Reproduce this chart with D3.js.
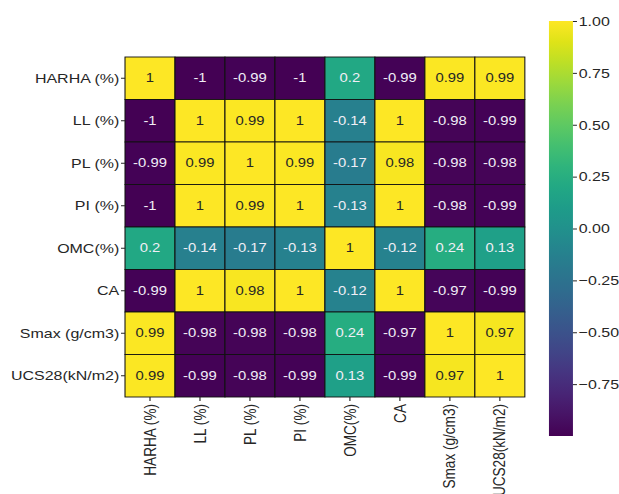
<!DOCTYPE html>
<html>
<head>
<meta charset="utf-8">
<script src="https://cdn.jsdelivr.net/npm/d3@7"></script>
<style>
  html, body { margin: 0; padding: 0; background: #fff; }
  svg { display: block; font-family: "Liberation Sans", Arial, Helvetica, sans-serif; }
</style>
</head>
<body>
<svg id="chart" width="619" height="494"></svg>
<script>
// Variable names (rows and columns share the same order)
const variables = ["HARHA (%)", "LL (%)", "PL (%)", "PI (%)", "OMC(%)", "CA", "Smax (g/cm3)", "UCS28(kN/m2)"];

// Correlation matrix, one array per row
const rowHARHA = [1, -1, -0.99, -1, 0.2, -0.99, 0.99, 0.99];
const rowLL    = [-1, 1, 0.99, 1, -0.14, 1, -0.98, -0.99];
const rowPL    = [-0.99, 0.99, 1, 0.99, -0.17, 0.98, -0.98, -0.98];
const rowPI    = [-1, 1, 0.99, 1, -0.13, 1, -0.98, -0.99];
const rowOMC   = [0.2, -0.14, -0.17, -0.13, 1, -0.12, 0.24, 0.13];
const rowCA    = [-0.99, 1, 0.98, 1, -0.12, 1, -0.97, -0.99];
const rowSmax  = [0.99, -0.98, -0.98, -0.98, 0.24, -0.97, 1, 0.97];
const rowUCS   = [0.99, -0.99, -0.98, -0.99, 0.13, -0.99, 0.97, 1];
const matrix = [rowHARHA, rowLL, rowPL, rowPI, rowOMC, rowCA, rowSmax, rowUCS];

// Colour bar ticks
const colorbarTicks = [1.0, 0.75, 0.5, 0.25, 0.0, -0.25, -0.5, -0.75];

const svg = d3.select("#chart");

// The figure is laid out with square cells and then widened horizontally.
const stretchX = 1.176;
const root = svg.append("g").attr("transform", `scale(${stretchX},1)`);

const textColor = "#262626";
const labelSize = "13.6px";

// Heatmap frame (square cells)
const hm = { left: 106.3, top: 57, size: 340 };
const x = d3.scaleBand().domain(variables).range([hm.left, hm.left + hm.size]);
const y = d3.scaleBand().domain(variables).range([hm.top, hm.top + hm.size]);
const color = d3.scaleSequential(d3.interpolateViridis).domain([-1, 1]);

const cells = [];
matrix.forEach((row, i) => row.forEach((v, j) => cells.push({ r: variables[i], c: variables[j], v })));

root.selectAll("rect.cell")
  .data(cells)
  .enter().append("rect")
  .attr("class", "cell")
  .attr("x", d => x(d.c))
  .attr("y", d => y(d.r))
  .attr("width", x.bandwidth())
  .attr("height", y.bandwidth())
  .attr("fill", d => color(d.v))
  .attr("stroke", "#111")
  .attr("stroke-width", 0.9);

// Cell annotations: dark text on light cells, light text on dark cells
root.selectAll("text.annot")
  .data(cells)
  .enter().append("text")
  .attr("class", "annot")
  .attr("x", d => x(d.c) + x.bandwidth() / 2)
  .attr("y", d => y(d.r) + y.bandwidth() / 2)
  .attr("text-anchor", "middle")
  .attr("dominant-baseline", "central")
  .attr("font-size", "12.6px")
  .attr("fill", d => d3.hsl(color(d.v)).l > 0.5 ? textColor : "#f0eef6")
  .text(d => String(d.v));

// Axes
const tick = 4 / stretchX;
const yAxis = root.append("g")
  .attr("transform", `translate(${hm.left},0)`)
  .call(d3.axisLeft(y).tickSize(tick).tickPadding(1.5));
yAxis.select(".domain").remove();
yAxis.selectAll(".tick line").attr("stroke", textColor);
yAxis.selectAll(".tick text")
  .attr("font-size", labelSize)
  .attr("fill", textColor)
  .attr("font-family", "Liberation Sans, Arial, sans-serif");

const xAxis = root.append("g")
  .attr("transform", `translate(0,${hm.top + hm.size})`)
  .call(d3.axisBottom(x).tickSize(4).tickPadding(2));
xAxis.select(".domain").remove();
xAxis.selectAll(".tick line").attr("stroke", textColor);
xAxis.selectAll(".tick text")
  .attr("font-size", labelSize)
  .attr("fill", textColor)
  .attr("font-family", "Liberation Sans, Arial, sans-serif")
  .attr("text-anchor", "end")
  .attr("dy", "0.35em")
  .attr("transform", "translate(0,7) rotate(-90)")
  .attr("x", 0)
  .attr("y", 0);

// Colour bar
const cb = { left: 466.8, top: 21, width: 20.4, height: 415 };
const cbScale = d3.scaleLinear().domain([-1, 1]).range([cb.top + cb.height, cb.top]);

const defs = svg.append("defs");
const grad = defs.append("linearGradient")
  .attr("id", "viridisGrad")
  .attr("x1", "0").attr("y1", "1").attr("x2", "0").attr("y2", "0");
d3.range(0, 1.0001, 0.05).forEach(t => {
  grad.append("stop").attr("offset", t).attr("stop-color", d3.interpolateViridis(t));
});

root.append("rect")
  .attr("x", cb.left)
  .attr("y", cb.top)
  .attr("width", cb.width)
  .attr("height", cb.height)
  .attr("fill", "url(#viridisGrad)");

const cbAxis = root.append("g")
  .attr("transform", `translate(${cb.left + cb.width},0)`)
  .call(d3.axisRight(cbScale)
    .tickValues(colorbarTicks)
    .tickSize(tick)
    .tickPadding(1.5)
    .tickFormat(d => d3.format(".2f")(d).replace("-", "\u2212")));
cbAxis.select(".domain").remove();
cbAxis.selectAll(".tick line").attr("stroke", textColor);
cbAxis.selectAll(".tick text")
  .attr("font-size", labelSize)
  .attr("fill", textColor)
  .attr("font-family", "Liberation Sans, Arial, sans-serif");
</script>
</body>
</html>
